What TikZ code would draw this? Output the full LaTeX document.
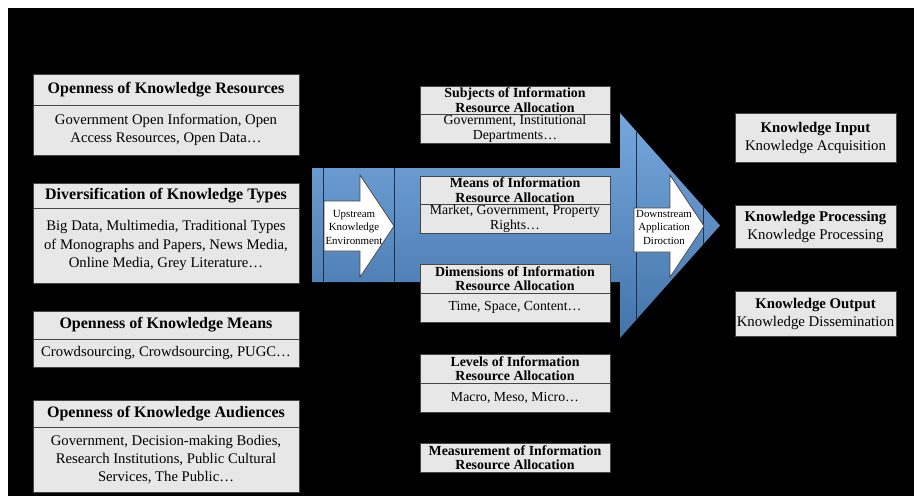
\documentclass[tikz,border=0pt]{standalone}
\usepackage{fontspec}
\setmainfont{Liberation Serif}
\usetikzlibrary{positioning}

\definecolor{boxfill}{RGB}{231,231,231}
\definecolor{boxline}{RGB}{70,70,70}
\definecolor{flowblue}{RGB}{84,145,212}
\definecolor{seamline}{RGB}{28,48,78}

\newcommand{\fsz}[2]{\fontsize{#1}{#2}\selectfont}

\begin{document}
\begin{tikzpicture}[x=1pt, y=-1pt,
    every node/.style={inner sep=0pt, outer sep=0pt, text=black},
    cell/.style={rectangle, draw=boxline, fill=boxfill, line width=0.9pt, align=center},
    lhead/.style={cell, minimum width=266pt, font=\bfseries\fsz{16}{18}},
    lbody/.style={cell, minimum width=266pt, font=\fsz{14.7}{18.2}},
    mhead/.style={cell, minimum width=190pt, minimum height=28pt, font=\bfseries\fsz{13.9}{14.6}},
    mbody/.style={cell, minimum width=190pt, minimum height=29pt, font=\fsz{13.8}{14.6}},
    rbox/.style={cell, minimum width=161pt, font=\fsz{14.8}{18}},
    tag/.style={align=center, font=\fsz{10.9}{13.5}},
    pointer/.style={fill=white, draw=boxline, line width=0.7pt, line join=miter},
    seam/.style={draw=seamline, line width=0.9pt}
]
% page and black panel
\fill[white] (0,0) rectangle (914,496);
\fill[black] (8,8) rectangle (914,496);
\useasboundingbox (0,0) rectangle (914,496);

% big flow arrow with its seams
\def\flowpath{(312,168) -- (620,168) -- (620,113) -- (720,225.5) -- (620,338) -- (620,282) -- (312,282) -- cycle}
\shade[top color=flowblue!80!white, bottom color=flowblue!80!black] \flowpath;
\begin{scope}
  \clip \flowpath;
  \foreach \sx in {323,394,636,703}
    \draw[seam] (\sx,100) -- (\sx,350);
\end{scope}

% white pointers
\filldraw[pointer] (324,201) -- (360,201) -- (360,175) -- (394,226) -- (360,277) -- (360,251) -- (324,251) -- cycle;
\node[tag] (up) at (354,227) {Upstream\\Knowledge\\Environment};
\filldraw[pointer] (634,208) -- (670,208) -- (670,175) -- (704,226) -- (670,277) -- (670,252) -- (634,252) -- cycle;
\node[tag] (down) at (664,227) {Downstream\\Application\\Diroction};

% left column
\node[lhead, minimum height=31pt, anchor=north] (res) at (166,74) {Openness of Knowledge Resources};
\node[lbody, minimum height=50pt, below=0pt of res] (resx) {Government Open Information, Open\\Access Resources, Open Data…};
\node[lhead, minimum height=25pt, anchor=north] (types) at (166,183) {Diversification of Knowledge Types};
\node[lbody, minimum height=75pt, below=0pt of types] (typesx) {Big Data, Multimedia, Traditional Types\\of Monographs and Papers, News Media,\\Online Media, Grey Literature…};
\node[lhead, minimum height=28pt, anchor=north] (means) at (166,311) {Openness of Knowledge Means};
\node[lbody, minimum height=28pt, below=0pt of means] (meansx) {Crowdsourcing, Crowdsourcing, PUGC…};
\node[lhead, minimum height=27pt, anchor=north] (aud) at (166,400) {Openness of Knowledge Audiences};
\node[lbody, minimum height=65pt, below=0pt of aud] (audx) {Government, Decision-making Bodies,\\Research Institutions, Public Cultural\\Services, The Public…};

% middle column
\node[mhead, anchor=north] (subj) at (515,86) {Subjects of Information\\Resource Allocation};
\node[mbody, below=0pt of subj] (subjx) {Government, Institutional\\Departments…};
\node[mhead, anchor=north] (mean) at (515,176) {Means of Information\\Resource Allocation};
\node[mbody, below=0pt of mean] (meanx) {Market, Government, Property\\Rights…};
\node[mhead, minimum height=29pt, anchor=north] (dim) at (515,264) {Dimensions of Information\\Resource Allocation};
\node[mbody, below=0pt of dim] (dimx) {Time, Space, Content…};
\node[mhead, minimum height=29pt, anchor=north] (lev) at (515,354) {Levels of Information\\Resource Allocation};
\node[mbody, below=0pt of lev] (levx) {Macro, Meso, Micro…};
\node[mhead, minimum height=29pt, anchor=north] (meas) at (515,443) {Measurement of Information\\Resource Allocation};

% right column
\node[rbox, minimum height=49pt, anchor=north] (kin) at (815.5,113) {\textbf{Knowledge Input}\\Knowledge Acquisition};
\node[rbox, minimum height=43pt, anchor=north] (kproc) at (815.5,205) {\textbf{Knowledge Processing}\\Knowledge Processing};
\node[rbox, minimum height=45pt, anchor=north] (kout) at (815.5,291) {\textbf{Knowledge Output}\\Knowledge Dissemination};
\end{tikzpicture}
\end{document}
